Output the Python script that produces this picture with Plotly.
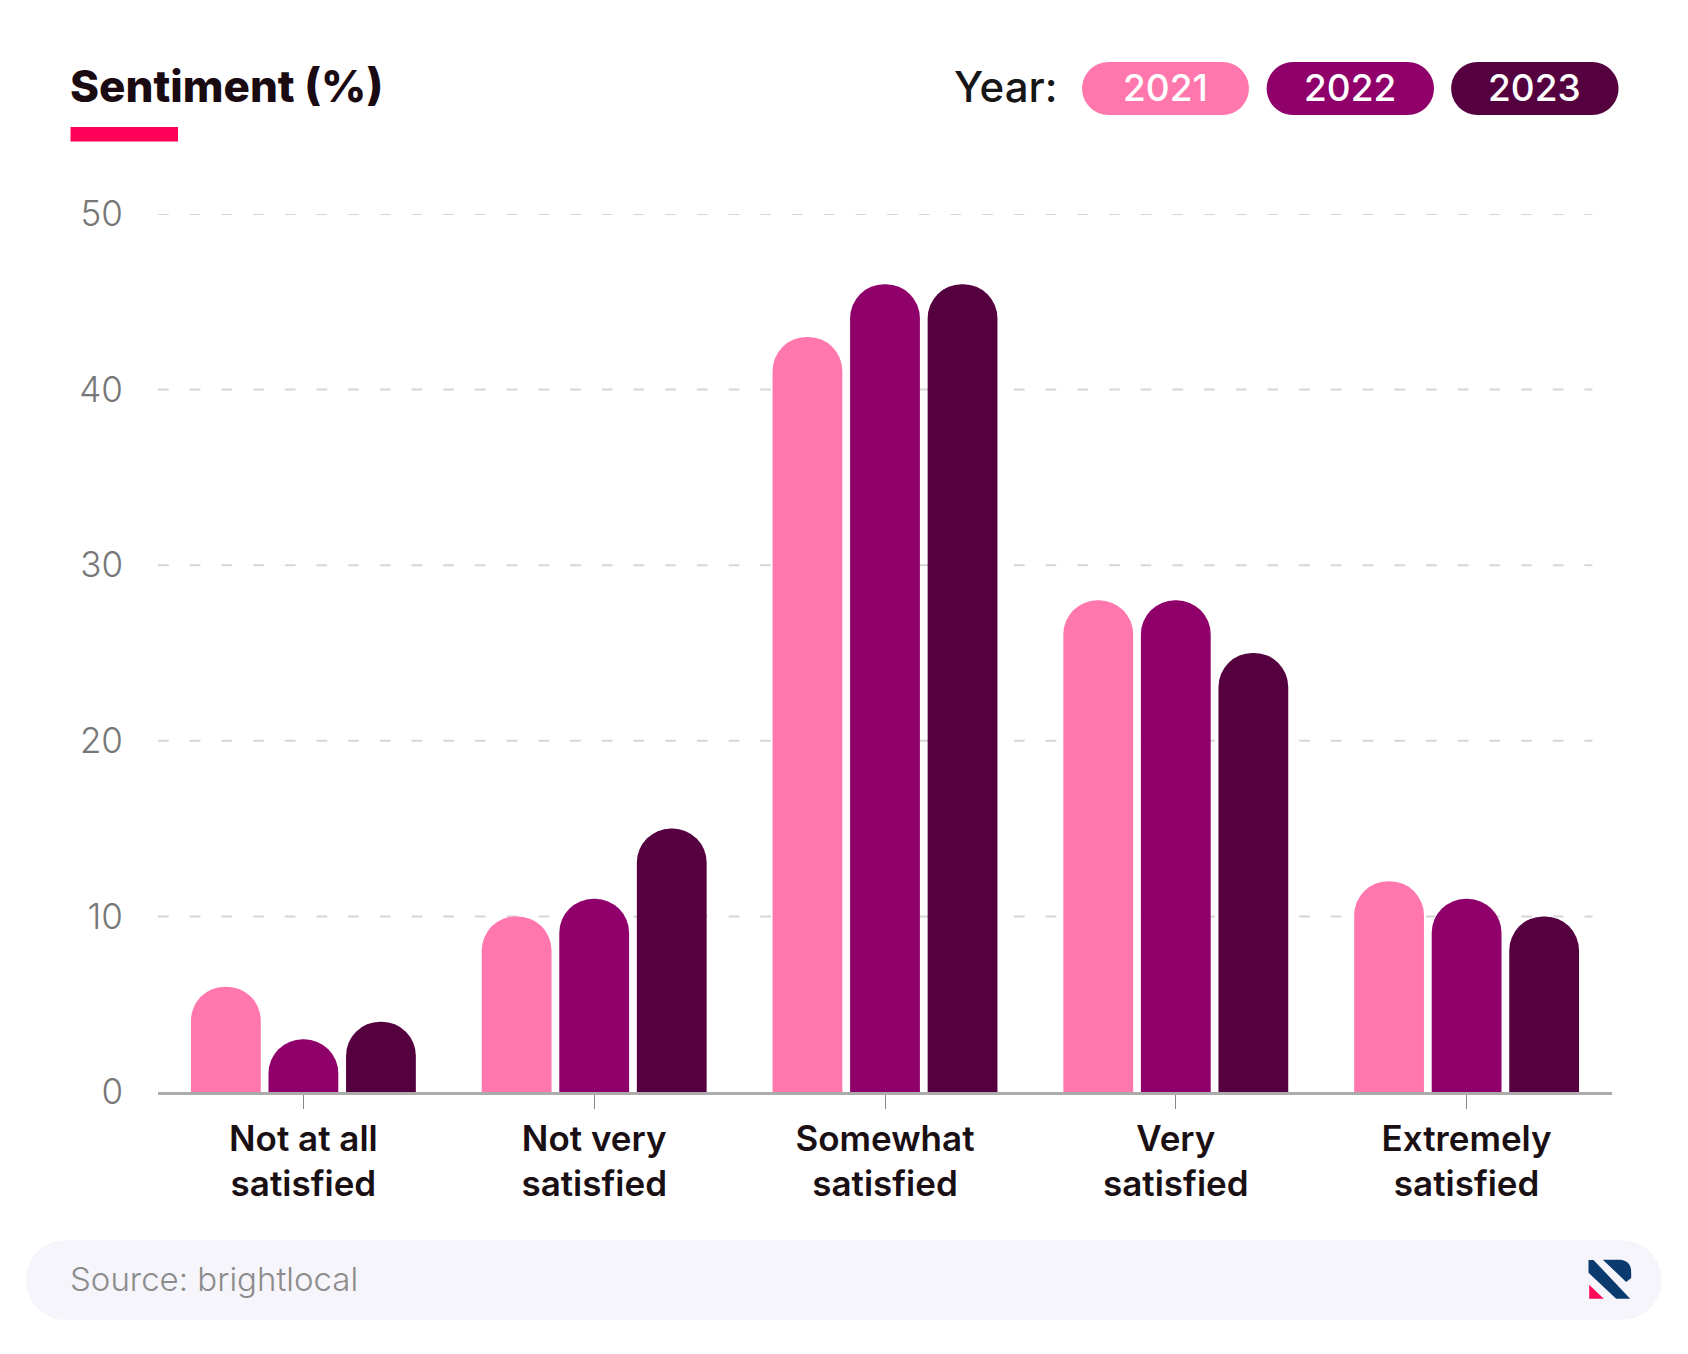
import plotly.graph_objects as go

W, H = 1688, 1354
L, R, T, B = 158.0, 1612.5, 213.7, 1091.7

categories = ["Not at all<br>satisfied", "Not very<br>satisfied", "Somewhat<br>satisfied",
              "Very<br>satisfied", "Extremely<br>satisfied"]
years = ["2021", "2022", "2023"]
values_2021 = [6, 10, 43, 28, 12]
values_2022 = [3, 11, 46, 28, 11]
values_2023 = [4, 15, 46, 25, 10]
y_ticks = [0, 10, 20, 30, 40, 50]
colors = ["#FF77AD", "#8F006B", "#55003F"]
FONT = "Inter"


def px(x):
    return (x - L) / (R - L)


def py(y):
    return (B - y) / (B - T)


def rect(x0, y0, x1, y1, color):
    return dict(type="rect", xref="paper", yref="paper", x0=px(x0), x1=px(x1), y0=py(y0), y1=py(y1),
                fillcolor=color, line_width=0, layer="above")


def pill(x0, y0, x1, y1, color):
    r = (y1 - y0) / 2
    k = 0.5523 * r
    pts = [
        f"M{px(x0 + r)},{py(y0)}", f"L{px(x1 - r)},{py(y0)}",
        f"C{px(x1 - r + k)},{py(y0)} {px(x1)},{py(y0 + r - k)} {px(x1)},{py(y0 + r)}",
        f"C{px(x1)},{py(y0 + r + k)} {px(x1 - r + k)},{py(y1)} {px(x1 - r)},{py(y1)}",
        f"L{px(x0 + r)},{py(y1)}",
        f"C{px(x0 + r - k)},{py(y1)} {px(x0)},{py(y0 + r + k)} {px(x0)},{py(y0 + r)}",
        f"C{px(x0)},{py(y0 + r - k)} {px(x0 + r - k)},{py(y0)} {px(x0 + r)},{py(y0)}Z",
    ]
    return dict(type="path", xref="paper", yref="paper", path="".join(pts), fillcolor=color,
                line_width=0, layer="below")


def poly(points, color):
    d = "M" + "L".join(f"{px(x)},{py(y)}" for x, y in points) + "Z"
    return dict(type="path", xref="paper", yref="paper", path=d, fillcolor=color, line_width=0, layer="above")


def logo_xy(zx, zy):
    return 1570 + zx / 3, 1245 + zy / 3


def logo_poly(points, color):
    return poly([logo_xy(*p) for p in points], color)


def logo_bowl(color):
    a = logo_xy(100, 43)
    b = logo_xy(150, 43)
    c1 = logo_xy(172, 43)
    c2 = logo_xy(185, 58)
    d = logo_xy(185, 78)
    e = logo_xy(185, 98)
    f = logo_xy(170, 110)
    path = (f"M{px(a[0])},{py(a[1])}L{px(b[0])},{py(b[1])}"
            f"C{px(c1[0])},{py(c1[1])} {px(c2[0])},{py(c2[1])} {px(d[0])},{py(d[1])}"
            f"L{px(e[0])},{py(e[1])}L{px(f[0])},{py(f[1])}Z")
    return dict(type="path", xref="paper", yref="paper", path=path, fillcolor=color, line_width=0, layer="above")


def text(x, y, s, size, color, anchor="left", weight=400):
    return dict(xref="paper", yref="paper", x=px(x), y=py(y), text=s, showarrow=False, xanchor=anchor,
                yanchor="middle", font=dict(family=FONT, size=size, color=color, weight=weight))


fig = go.Figure()
for year, vals, c in zip(years, [values_2021, values_2022, values_2023], colors):
    fig.add_bar(x=categories, y=vals, name=year, marker=dict(color=c, cornerradius="50%", line_width=0))

shapes = []
for v in y_ticks[1:]:
    shapes.append(dict(type="line", xref="paper", yref="y", x0=0, x1=px(1593), y0=v, y1=v,
                       line=dict(color="#D6D6D6", width=2, dash="10.7px,21px"), layer="below"))
shapes += [
    rect(70.5, 126.7, 178, 141.3, "#FF0059"),
    pill(1082.4, 61.7, 1249.3, 114.7, colors[0]),
    pill(1267, 61.7, 1434.4, 114.7, colors[1]),
    pill(1451.6, 61.7, 1619, 114.7, colors[2]),
    pill(25.8, 1239.7, 1662, 1319.7, "#F6F5FB"),
    logo_poly([(57, 44), (72, 44), (182, 160), (140, 160), (57, 82)], "#0B3A6E"),
    logo_bowl("#0B3A6E"),
    logo_poly([(59, 118), (103, 160), (59, 160)], "#FF0A5A"),
]

annotations = [
    text(68, 86, "Sentiment (%)", 44, "#1A0A12", weight=800),
    text(952, 86.5, "Year:", 42, "#161616", weight=500),
    text(1165.8, 87.5, years[0], 37, "white", "center", 500),
    text(1350.7, 87.5, years[1], 37, "white", "center", 500),
    text(1535.3, 87.5, years[2], 37, "white", "center", 500),
    text(68, 1279, "Source: brightlocal", 33, "#8C8C8C", weight=300),
]

fig.update_layout(
    width=W, height=H, margin=dict(l=L, r=W - R, t=T, b=H - B, pad=0),
    paper_bgcolor="white", plot_bgcolor="white", showlegend=False,
    barmode="group", bargap=0.2, bargroupgap=0.1, shapes=shapes, annotations=annotations,
    font=dict(family=FONT),
)
fig.update_xaxes(type="category", showgrid=False, showline=True, linecolor="#ABABAB", linewidth=2.5,
                 ticks="outside", ticklen=14, tickwidth=1, tickcolor="#888888",
                 tickfont=dict(family=FONT, size=35, color="#1A1014", weight=600))
fig.update_yaxes(range=[0, 50], tickvals=y_ticks, showgrid=False, zeroline=False, showline=False,
                 ticks="", ticklabelstandoff=34,
                 tickfont=dict(family=FONT, size=35, color="#777777", weight=300))
fig.write_html("out.html", config=dict(displayModeBar=False), post_script="document.body.style.margin='0';")
